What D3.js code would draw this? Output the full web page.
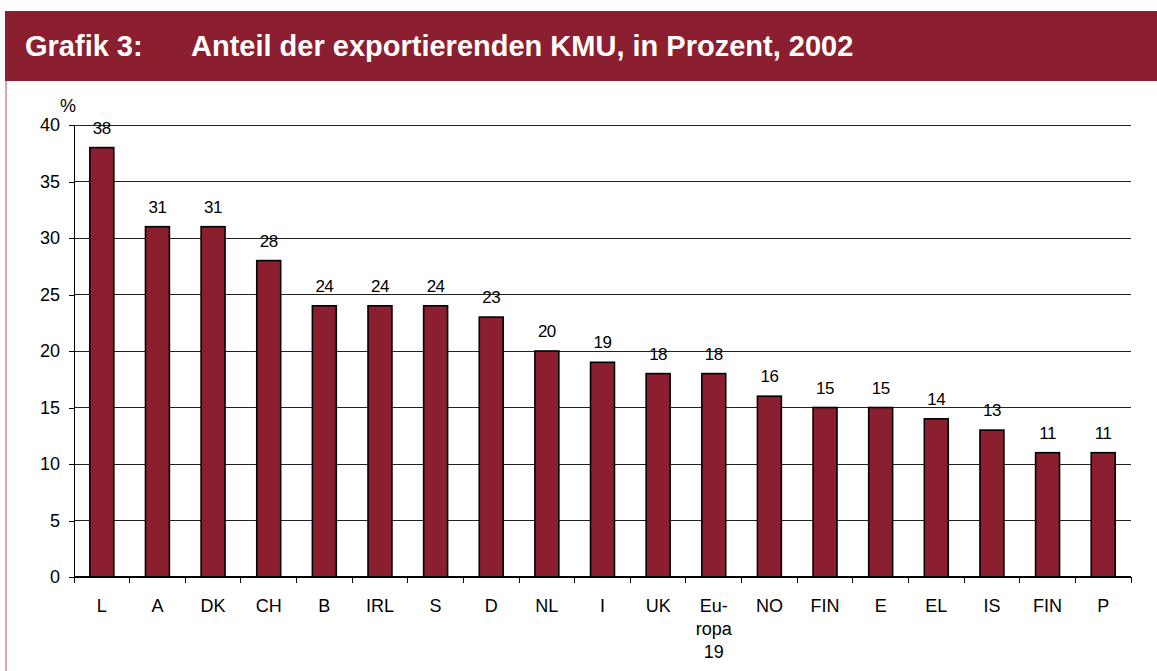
<!DOCTYPE html>
<html>
<head>
<meta charset="utf-8">
<script src="https://cdn.jsdelivr.net/npm/d3@7"></script>
<style>
  html, body { margin: 0; padding: 0; background: #fff; }
  svg { display: block; font-family: "Liberation Sans", Arial, sans-serif; }
</style>
</head>
<body>
<svg id="chart" width="1157" height="671"></svg>
<script>
// ---- data ----
const categories = ["L", "A", "DK", "CH", "B", "IRL", "S", "D", "NL", "I", "UK", "Eu-\nropa\n19", "NO", "FIN", "E", "EL", "IS", "FIN", "P"];
const values = [38, 31, 31, 28, 24, 24, 24, 23, 20, 19, 18, 18, 16, 15, 15, 14, 13, 11, 11];
const yTicks = [0, 5, 10, 15, 20, 25, 30, 35, 40];
const titleLabel = "Grafik 3:";
const titleText = "Anteil der exportierenden KMU, in Prozent, 2002";
const unitLabel = "%";

// ---- layout ----
const W = 1157, H = 671;
const plot = { left: 74, right: 1131, top: 125, bottom: 577 };
const red = "#8c1f2f";

const svg = d3.select("#chart");
svg.append("rect").attr("width", W).attr("height", H).attr("fill", "#fff");

// header band
svg.append("rect").attr("x", 5).attr("y", 11).attr("width", W - 5).attr("height", 70).attr("fill", red);
svg.append("line").attr("x1", 6).attr("x2", 6).attr("y1", 81).attr("y2", H)
  .attr("stroke", "#c98a93").attr("stroke-width", 1.5);
svg.append("text").attr("x", 25).attr("y", 56).attr("fill", "#fff")
  .attr("font-size", 29).attr("font-weight", "bold").text(titleLabel);
svg.append("text").attr("x", 191).attr("y", 56).attr("fill", "#fff")
  .attr("font-size", 29).attr("font-weight", "bold").text(titleText);

// scales
const idx = d3.range(categories.length);
const x = d3.scaleBand().domain(idx).range([plot.left, plot.right])
  .paddingInner(0.57).paddingOuter(0.285);
const y = d3.scaleLinear().domain([0, 40]).range([plot.bottom, plot.top]);

// gridlines
svg.append("g").selectAll("line").data(yTicks.filter(t => t > 0)).join("line")
  .attr("x1", plot.left).attr("x2", plot.right)
  .attr("y1", d => y(d)).attr("y2", d => y(d))
  .attr("stroke", "#222").attr("stroke-width", 1).attr("shape-rendering", "crispEdges");

// y axis
const yAxis = svg.append("g").attr("transform", `translate(${plot.left},0)`)
  .call(d3.axisLeft(y).tickValues(yTicks).tickSize(5).tickPadding(9));
yAxis.select(".domain").attr("stroke", "#000").attr("shape-rendering", "crispEdges");
yAxis.selectAll(".tick line").attr("stroke", "#000").attr("shape-rendering", "crispEdges");
yAxis.selectAll(".tick text").attr("font-size", 18).attr("fill", "#000")
  .attr("font-family", "Liberation Sans, Arial, sans-serif");

svg.append("text").attr("x", 68).attr("y", 112).attr("text-anchor", "middle")
  .attr("font-size", 18).attr("fill", "#000").text(unitLabel);

// bars
svg.append("g").selectAll("rect").data(values).join("rect")
  .attr("x", (d, i) => x(i)).attr("width", x.bandwidth())
  .attr("y", d => y(d)).attr("height", d => y(0) - y(d))
  .attr("fill", red).attr("stroke", "#000").attr("stroke-width", 1.6);

// value labels
svg.append("g").selectAll("text").data(values).join("text")
  .attr("x", (d, i) => x(i) + x.bandwidth() / 2)
  .attr("y", d => y(d) - 14)
  .attr("text-anchor", "middle").attr("font-size", 17).attr("fill", "#000")
  .attr("letter-spacing", -0.5)
  .text(d => d);

// x axis line + boundary ticks
const step = x.step();
svg.append("line").attr("x1", plot.left).attr("x2", plot.right)
  .attr("y1", plot.bottom).attr("y2", plot.bottom)
  .attr("stroke", "#000").attr("stroke-width", 1.2).attr("shape-rendering", "crispEdges");
svg.append("g").selectAll("line").data(d3.range(categories.length + 1)).join("line")
  .attr("x1", i => plot.left + i * step).attr("x2", i => plot.left + i * step)
  .attr("y1", plot.bottom).attr("y2", plot.bottom + 6)
  .attr("stroke", "#000").attr("stroke-width", 1).attr("shape-rendering", "crispEdges");

// category labels
const cat = svg.append("g").selectAll("text").data(categories).join("text")
  .attr("text-anchor", "middle").attr("font-size", 18).attr("fill", "#000")
  .attr("transform", (d, i) => `translate(${x(i) + x.bandwidth() / 2},612)`);
cat.selectAll("tspan").data(d => d.split("\n")).join("tspan")
  .attr("x", 0).attr("dy", (d, j) => j === 0 ? 0 : 23).text(d => d);
</script>
</body>
</html>
